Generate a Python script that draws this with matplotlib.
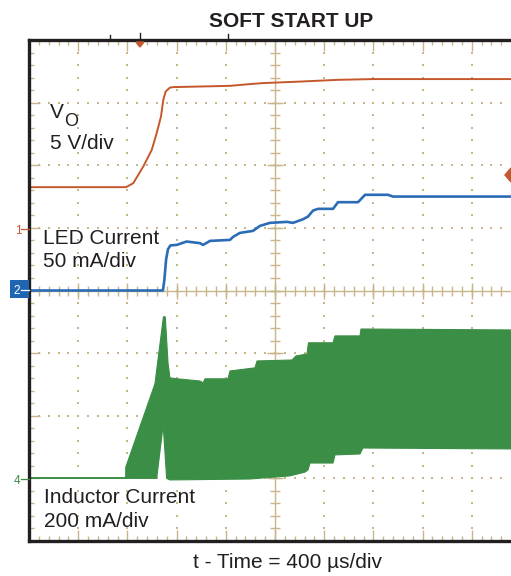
import numpy as np
import matplotlib
matplotlib.use('Agg')
import matplotlib.pyplot as plt
from matplotlib.ticker import MultipleLocator
from matplotlib.lines import Line2D
from matplotlib.patches import Rectangle, Polygon

plt.rcParams['font.family'] = ['Liberation Sans', 'DejaVu Sans']

# ---------------- data ----------------
# time in microseconds
t_vo = [0, 789, 848, 929, 998, 1038, 1073, 1092, 1111, 1146, 1173, 1634, 1797, 1902, 2203, 2512, 2797, 3919]
vo_v = [3.25, 3.25, 3.57, 4.90, 6.23, 7.56, 8.89, 10.22, 10.89, 11.20, 11.24, 11.34, 11.48, 11.56, 11.68, 11.82, 11.88, 11.88]

t_led = [0, 1089, 1100, 1115, 1130, 1150, 1201, 1282, 1390, 1415, 1472, 1634, 1659, 1715, 1821, 1878,
         1959, 2098, 2146, 2228, 2268, 2309, 2350, 2472, 2512, 2675, 2732, 2919, 2959, 3919]
led_ma = [0, 0, 8, 25, 33, 36, 36.4, 39.1, 37.8, 36.4, 39.6, 40.4, 42.8, 46, 47.6, 51.6,
          54, 54.8, 54, 56.9, 59, 63.8, 65.2, 65.2, 70.5, 70.5, 76.4, 76.4, 75, 75]

# inductor current envelope (switching ripple band)
t_il_base = [0, 786]
il_base = [0, 0]
t_il_top = [786, 787, 1024, 1093, 1108, 1130, 1146, 1203, 1390, 1415, 1431, 1618, 1634, 1837, 1854,
            2138, 2171, 2260, 2272, 2472, 2488, 2691, 2699, 3919]
il_top = [0, 36, 302, 516, 516, 369, 321, 318, 311, 305, 318, 318, 343, 353, 375,
          378, 391, 397, 433, 433, 455, 455, 477, 474]
t_il_bot = [786, 1038, 1091, 1119, 1146, 1797, 2122, 2244, 2268, 2285, 2472, 2488, 2691, 2715, 3919]
il_bot = [0, 0, 171, 0, -5, -2, 8, 20, 27, 49, 49, 75, 78, 97, 94]

# scope settings
TIME_PER_DIV = 400
VO_PER_DIV, VO_GND = 5.0, 5.0
LED_PER_DIV, LED_GND = 50.0, 4.0
IL_PER_DIV, IL_GND = 200.0, 1.0

# ---------------- styling ----------------
W, H = 511, 576
ORANGE = '#c4582b'
BLUE = '#2b6cb6'
GREEN = '#3a8e46'
TAN = '#c7b68a'
DARK = '#231f20'

fig = plt.figure(figsize=(W / 100, H / 100), dpi=100)
ax = fig.add_axes([29 / W, 35 / H, 482 / W, 501 / H])
XMAX = 482 / 49.2 * TIME_PER_DIV
ax.set_xlim(0, XMAX)
ax.set_ylim(0, 8)

for s in ['left', 'top', 'bottom']:
    ax.spines[s].set_color(DARK)
    ax.spines[s].set_linewidth(2.4)
    ax.spines[s].set_zorder(6)
ax.spines['right'].set_visible(False)

ax.xaxis.set_major_locator(MultipleLocator(TIME_PER_DIV))
ax.xaxis.set_minor_locator(MultipleLocator(TIME_PER_DIV / 5))
ax.yaxis.set_major_locator(MultipleLocator(1))
ax.yaxis.set_minor_locator(MultipleLocator(0.2))
ax.tick_params(which='both', direction='in', top=True, bottom=True, left=True, right=False,
               labelbottom=False, labelleft=False, color=TAN, width=1.0)
ax.tick_params(which='major', length=8)
ax.tick_params(which='minor', length=3.5)

# dotted graticule
dx, dy = [], []
for k in range(1, 10):
    if k == 5:
        continue
    ys = np.arange(0.2, 8.0, 0.2)
    dx += [k * TIME_PER_DIV] * len(ys)
    dy += list(ys)
for j in range(1, 8):
    if j == 4:
        continue
    xs = np.arange(TIME_PER_DIV / 5, XMAX, TIME_PER_DIV / 5)
    dx += list(xs)
    dy += [j] * len(xs)
ax.scatter(dx, dy, s=2.2, marker='s', color=TAN, linewidths=0, zorder=1)

# center cross with ticks
ax.axvline(5 * TIME_PER_DIV, color=TAN, lw=1.0, zorder=1)
ax.axhline(4, color=TAN, lw=1.0, zorder=1)
ys_minor = np.arange(0.2, 8.0, 0.2)
ax.plot([5 * TIME_PER_DIV] * len(ys_minor), ys_minor, ls='none', marker='_', ms=7, mew=1.0, color=TAN, zorder=1)
ax.plot([5 * TIME_PER_DIV] * 7, np.arange(1, 8), ls='none', marker='_', ms=11, mew=1.0, color=TAN, zorder=1)
xs_minor = np.arange(TIME_PER_DIV / 5, XMAX, TIME_PER_DIV / 5)
ax.plot(xs_minor, [4] * len(xs_minor), ls='none', marker='|', ms=7, mew=1.0, color=TAN, zorder=1)
xs_major = np.arange(TIME_PER_DIV, XMAX, TIME_PER_DIV)
ax.plot(xs_major, [4] * len(xs_major), ls='none', marker='|', ms=11, mew=1.0, color=TAN, zorder=1)

# ---------------- traces ----------------
# inductor current band
top_y = IL_GND + np.array(il_top) / IL_PER_DIV
bot_y = IL_GND + np.array(il_bot) / IL_PER_DIV
poly_x = np.concatenate([t_il_top, t_il_bot[::-1]])
poly_y = np.concatenate([top_y, bot_y[::-1]])
ax.fill(poly_x, poly_y, color=GREEN, lw=0.8, ec=GREEN, zorder=3)
ax.plot(t_il_base, IL_GND + np.array(il_base) / IL_PER_DIV, color=GREEN, lw=1.4, zorder=3)

# LED current
ax.plot(t_led, LED_GND + np.array(led_ma) / LED_PER_DIV, color=BLUE, lw=1.9, zorder=4,
        solid_joinstyle='round')
# output voltage
ax.plot(t_vo, VO_GND + np.array(vo_v) / VO_PER_DIV, color=ORANGE, lw=1.4, zorder=4)


# ---------------- annotations ----------------
def fx(x):
    return x / W


def fy(y):
    return 1 - y / H


def ftext(x, y, s, **kw):
    kw.setdefault('color', DARK)
    kw.setdefault('va', 'baseline')
    fig.text(fx(x), fy(y), s, **kw)


ftext(291.5, 26.7, 'SOFT START UP', fontsize=15, fontweight='bold', ha='center')
ftext(50, 118, 'V', fontsize=15)
ftext(64, 126, 'O', fontsize=13)
ftext(50, 149, '5 V/div', fontsize=15)
ftext(43, 244, 'LED Current', fontsize=15)
ftext(43, 267, '50 mA/div', fontsize=15)
ftext(44, 503, 'Inductor Current', fontsize=15)
ftext(44, 527, '200 mA/div', fontsize=15)
ftext(287, 568, 't - Time = 400 \u00b5s/div', fontsize=15, ha='center')

# channel markers
ftext(18, 234, '1', fontsize=8.5, ha='center', color=ORANGE)
fig.add_artist(Line2D([fx(21), fx(29)], [fy(229), fy(229)], color=ORANGE, lw=0.9))
fig.add_artist(Rectangle((fx(10), fy(298)), 19 / W, 18 / H, transform=fig.transFigure,
                         facecolor='#1f66b2', edgecolor='none'))
ftext(17, 294.5, '2', fontsize=8.5, ha='center', color='white')
fig.add_artist(Line2D([fx(21), fx(29)], [fy(290), fy(290)], color='white', lw=0.9))
ftext(17, 484, '4', fontsize=8.5, ha='center', color=GREEN)
fig.add_artist(Line2D([fx(21), fx(29)], [fy(479), fy(479)], color=GREEN, lw=0.9))

# trigger markers
fig.add_artist(Polygon([(fx(136), fy(42)), (fx(144), fy(42)), (fx(140), fy(47))],
                       closed=True, transform=fig.transFigure, color=ORANGE, zorder=7))
for xm, y0 in [(110, 35), (140, 33), (228, 34)]:
    fig.add_artist(Line2D([fx(xm), fx(xm)], [fy(y0), fy(38)], color=DARK, lw=1.0))
fig.add_artist(Polygon([(fx(505), fy(175)), (fx(511), fy(168)), (fx(517), fy(175)), (fx(511), fy(182))],
                       closed=True, transform=fig.transFigure, color=ORANGE, zorder=7))

fig.savefig('out.png', dpi=100)
